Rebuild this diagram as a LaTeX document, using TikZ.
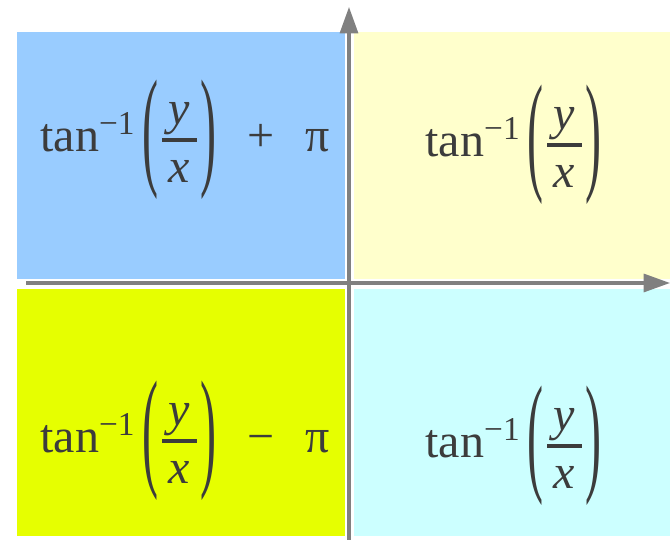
\documentclass[tikz,border=0pt]{standalone}
\usepackage{amsmath}
\usepackage{graphicx}
\usepackage{fontspec}
\setmainfont{Liberation Serif}
\usetikzlibrary{arrows.meta}
\definecolor{quadblue}{HTML}{99CCFF}
\definecolor{quadcream}{HTML}{FFFFCC}
\definecolor{quadlime}{HTML}{E6FF00}
\definecolor{quadcyan}{HTML}{CCFFFF}
\definecolor{axisgray}{HTML}{808080}
\definecolor{formulagray}{HTML}{3C3C3C}
\newcommand{\tallparen}[1]{\vcenter{\hbox{\scalebox{1}[2.75]{#1}}}}
\newcommand{\arctanyx}{\text{tan}^{\text{−1}}\mkern2.5mu\tallparen{(}\genfrac{}{}{1.4pt}{0}{\mkern2.6mu\smash{\raisebox{-0.1em}{\itshape y}}\mkern2.6mu}{\smash{\raisebox{0.06em}{\itshape x}}}\tallparen{)}}

\begin{document}
\begin{tikzpicture}[x=0.36pt,y=-0.36pt,
  axis/.style={draw=axisgray,line width=1.1pt,-{Triangle[length=9.5pt,width=6.5pt]}},
  formula/.style={anchor=west,inner sep=0pt,text=formulagray,font=\LARGE}]
\useasboundingbox (0,0) rectangle (670,540);
\fill[quadblue] (17,32) rectangle (345,279);
\fill[quadcream] (354,32) rectangle (670,279);
\fill[quadlime] (17,289) rectangle (345,536);
\fill[quadcyan] (354,289) rectangle (670,536);
\coordinate (xtail) at (26,283);
\coordinate (xhead) at (670,283);
\coordinate (ytail) at (349,540);
\coordinate (yhead) at (349,7);
\draw[axis] (xtail) -- (xhead);
\draw[axis] (ytail) -- (yhead);
\node[formula] (second) at (40,140) {$\arctanyx\hspace{0.65em}\text{+}\hspace{0.65em}\text{π}$};
\node[formula] (first) at (425,145) {$\arctanyx$};
\node[formula] (third) at (40,441) {$\arctanyx\hspace{0.65em}\text{−}\hspace{0.65em}\text{π}$};
\node[formula] (fourth) at (425,446) {$\arctanyx$};
\end{tikzpicture}
\end{document}
